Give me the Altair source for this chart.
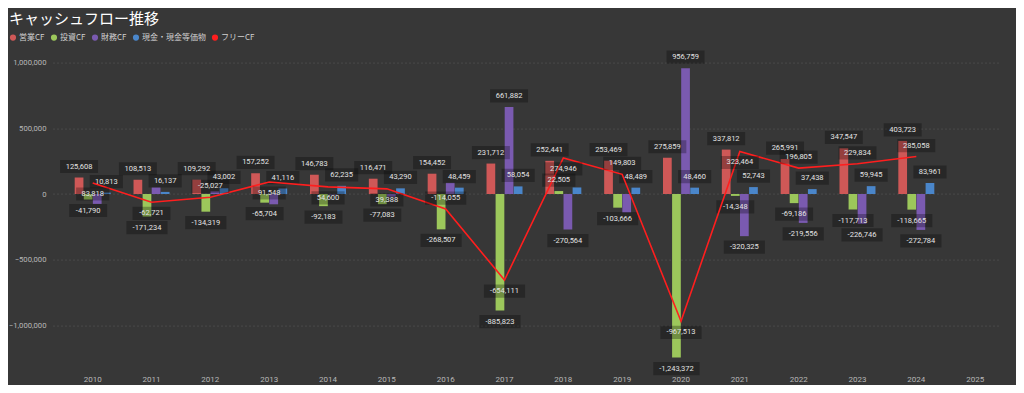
import altair as alt
import pandas as pd

# ---------------- data ----------------
years = ["2010", "2011", "2012", "2013", "2014", "2015", "2016", "2017",
         "2018", "2019", "2020", "2021", "2022", "2023", "2024"]
axis_years = years + ["2025"]

series_names = ["営業CF", "投資CF", "財務CF", "現金・現金等価物"]
free_name = "フリーCF"

op_cf = [125608, 108513, 109292, 157252, 146783, 116471, 154452, 231712,
         252441, 253469, 275859, 337812, 265991, 347547, 403723]
inv_cf = [-41790, -171234, -134319, -65704, -92183, -77083, -268507, -885823,
          22505, -103666, -1243372, -14348, -69186, -117713, -118665]
fin_cf = [-75000, 50000, 20000, -78000, -3000, -20000, 85000, 661882,
          -270564, -140000, 956759, -320325, -219556, -226746, -272784]
cash = [10813, 16137, 43002, 41116, 62235, 43290, 48459, 58054,
        50000, 48489, 48460, 52743, 37438, 59945, 83961]
free_cf = [83818, -62721, -25027, 91548, 54600, 39388, -114055, -654111,
           274946, 149803, -967513, 323464, 196805, 229834, 285058]

# ---------------- styling ----------------
colors = ["#CF5857", "#9CC75B", "#7A5AB0", "#4A86CA", "#FF1E1E"]
bg = "#373737"
font = "Roboto"
jp_font = "Noto Sans CJK JP"
# labels Power BI hid because of overlap
hidden = {("財務CF", y) for y in ["2010", "2011", "2012", "2013", "2014", "2015", "2016", "2019"]}
hidden |= {("現金・現金等価物", "2018")}
# free CF label placed above the point in these years, else below
free_above = {"2012", "2016", "2019", "2022", "2023", "2024"}

rows = []
for s, vals in zip(series_names, [op_cf, inv_cf, fin_cf, cash]):
    for y, v in zip(years, vals):
        rows.append({"year": y, "series": s, "value": v})
bars_df = pd.DataFrame(rows)
bars_df["label"] = bars_df["value"].map(lambda v: f"{v:,}")
bars_df["len"] = bars_df["label"].str.len().astype(str)
mask = bars_df.apply(lambda r: (r["series"], r["year"]) in hidden, axis=1)
labels_df = bars_df[~mask].copy()
labels_df["side"] = labels_df["value"].map(lambda v: "up" if v >= 0 else "down")

line_df = pd.DataFrame({"year": years, "series": free_name, "value": free_cf})
line_df["label"] = line_df["value"].map(lambda v: f"{v:,}")
line_df["len"] = line_df["label"].str.len().astype(str)
line_df["side"] = line_df["year"].map(lambda y: "up" if y in free_above else "down")


def box(h):
    return f"M-{h},-0.33L{h},-0.33L{h},0.33L-{h},0.33Z"


len_domain = ["6", "7", "8", "9", "10"]
len_range = [box(0.83), box(0.95), box(1.03), box(1.08), box(1.16)]
shape_scale = alt.Scale(domain=len_domain, range=len_range)

color_scale = alt.Scale(domain=series_names + [free_name], range=colors)
x_scale = alt.Scale(domain=axis_years, paddingInner=0.388, paddingOuter=0.2426, align=0.76)
y_scale = alt.Scale(domain=[-1350000, 1060000], nice=False, zero=False)
xoff_scale = alt.Scale(domain=series_names, paddingInner=0.04, paddingOuter=0)

X = alt.X("year:N", scale=x_scale,
          axis=alt.Axis(title=None, labelAngle=0, ticks=False, domain=False, grid=False,
                        labelColor="#b8b8b8", labelFontSize=8, labelFont=font, labelPadding=4))
Y = alt.Y("value:Q", scale=y_scale,
          axis=alt.Axis(title=None, values=[-1000000, -500000, 0, 500000, 1000000], format=",d",
                        ticks=False, domain=False, labelColor="#b8b8b8", labelFontSize=7.7,
                        labelFont=font, labelPadding=7, gridColor="#5a5a5a",
                        gridDash=[1, 3], gridWidth=1))
XO = alt.XOffset("series:N", scale=xoff_scale)

bars = alt.Chart(bars_df).mark_bar().encode(
    x=X, y=Y, xOffset=XO,
    color=alt.Color("series:N", scale=color_scale,
                    legend=alt.Legend(title=None, orient="none", legendX=-44, legendY=-21,
                                      direction="horizontal", symbolType="circle",
                                      symbolSize=38, symbolStrokeWidth=0, symbolOpacity=1,
                                      labelColor="#d0d0d0", labelFontSize=8, labelFont=jp_font,
                                      labelOffset=2, columnPadding=5)),
)

line = alt.Chart(line_df).mark_line(strokeWidth=1.6).encode(
    x=X, y="value:Q", color=alt.Color("series:N", scale=color_scale),
)

box_style = dict(filled=True, color="#000000", opacity=0.28, size=1600, strokeWidth=0)
text_style = dict(fontSize=7.5, font=font, color="#e4e4e4", baseline="middle", align="center")

layers = [bars]
for side, off in [("up", -11), ("down", 11)]:
    lab = alt.Chart(labels_df).transform_filter(alt.datum.side == side)
    layers.append(lab.mark_point(yOffset=off, **box_style).encode(
        x=X, y="value:Q", xOffset=XO, shape=alt.Shape("len:N", scale=shape_scale, legend=None)))
layers.append(line)
for side, off in [("up", -11), ("down", 11)]:
    fl = alt.Chart(line_df).transform_filter(alt.datum.side == side)
    layers.append(fl.mark_point(yOffset=off, **box_style).encode(
        x=X, y="value:Q", shape=alt.Shape("len:N", scale=shape_scale, legend=None)))
for side, off in [("up", -11), ("down", 11)]:
    lab = alt.Chart(labels_df).transform_filter(alt.datum.side == side)
    layers.append(lab.mark_text(dy=off, **text_style).encode(
        x=X, y="value:Q", xOffset=XO, text="label:N"))
    fl = alt.Chart(line_df).transform_filter(alt.datum.side == side)
    layers.append(fl.mark_text(dy=off, **text_style).encode(
        x=X, y="value:Q", text="label:N"))

chart = alt.layer(*layers).properties(
    width=947, height=317,
    title=alt.Title("キャッシュフロー推移", anchor="start", frame="group", dx=-44, dy=6,
                    fontSize=15, font=jp_font, color="#ffffff", fontWeight="normal",
                    baseline="alphabetic", offset=1),
    autosize=alt.AutoSizeParams(type="none"),
    padding={"left": 45, "top": 46.6, "right": 16, "bottom": 13.4},
    background=bg,
).resolve_scale(shape="shared").configure_view(stroke=None)

chart.save("out.html", embed_options={"renderer": "svg", "actions": False})
